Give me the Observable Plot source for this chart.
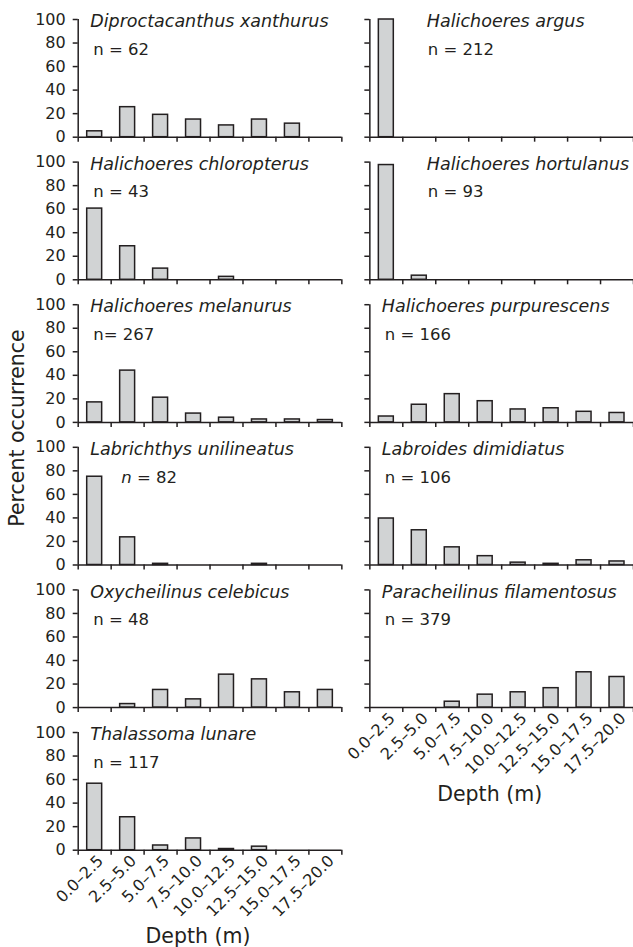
<!DOCTYPE html>
<html>
<head>
<meta charset="utf-8">
<script src="https://cdn.jsdelivr.net/npm/d3@7"></script>
<script src="https://cdn.jsdelivr.net/npm/@observablehq/plot@0.6"></script>
<style>
  html, body { margin: 0; padding: 0; background: #fff; }
  #chart svg { display: block; }
</style>
</head>
<body>
<div id="chart"></div>
<script>
// ---- data ----
const depthLabels = ["0.0–2.5", "2.5–5.0", "5.0–7.5", "7.5–10.0", "10.0–12.5", "12.5–15.0", "15.0–17.5", "17.5–20.0"];
const depthLow  = [0, 2.5, 5, 7.5, 10, 12.5, 15, 17.5];
const depthHigh = [2.5, 5, 7.5, 10, 12.5, 15, 17.5, 20];
const depthBounds = [0, 2.5, 5, 7.5, 10, 12.5, 15, 17.5, 20];
const percentTicks = [0, 20, 40, 60, 80, 100];

const species = [
  "Diproctacanthus xanthurus", "Halichoeres argus",
  "Halichoeres chloropterus", "Halichoeres hortulanus",
  "Halichoeres melanurus", "Halichoeres purpurescens",
  "Labrichthys unilineatus", "Labroides dimidiatus",
  "Oxycheilinus celebicus", "Paracheilinus filamentosus",
  "Thalassoma lunare"
];
const sampleLabels = ["n = 62", "n = 212", "n = 43", "n = 93", "n= 267", "n = 166", "n = 82", "n = 106", "n = 48", "n = 379", "n = 117"];

const diproctacanthusXanthurus = [5, 25.5, 19, 15, 10, 15, 11.5, 0];
const halichoeresArgus         = [100, 0, 0, 0, 0, 0, 0, 0];
const halichoeresChloropterus  = [60.5, 28.5, 9.5, 0, 2.5, 0, 0, 0];
const halichoeresHortulanus    = [97.5, 3.5, 0, 0, 0, 0, 0, 0];
const halichoeresMelanurus     = [17, 44, 21, 7.5, 4, 2.5, 2.5, 2];
const halichoeresPurpurescens  = [5, 15, 24, 18, 11, 12, 9, 8];
const labrichthysUnilineatus   = [75, 23.5, 1, 0, 0, 1, 0, 0];
const labroidesDimidiatus      = [39.5, 29.5, 15, 7.5, 2, 1, 4, 3];
const oxycheilinusCelebicus    = [0, 3, 15, 7, 28, 24, 13, 15];
const paracheilinusFilamentosus= [0, 0, 5, 11, 13, 16.5, 30, 26];
const thalassomaLunare         = [56.5, 28, 4, 10, 1, 3, 0, 0];

const series = [
  diproctacanthusXanthurus, halichoeresArgus, halichoeresChloropterus, halichoeresHortulanus,
  halichoeresMelanurus, halichoeresPurpurescens, labrichthysUnilineatus, labroidesDimidiatus,
  oxycheilinusCelebicus, paracheilinusFilamentosus, thalassomaLunare
];

// ---- tables built from the arrays ----
const panels = species.map((name, i) => ({
  name, n: sampleLabels[i], col: i % 2, row: Math.floor(i / 2), first: series[i][0]
}));
const bars = panels.flatMap((p, i) => series[i].map((v, j) => ({
  col: p.col, row: p.row, lo: depthLow[j], hi: depthHigh[j], value: v
}))).filter(d => d.value > 0);
const depthMid = depthLow.map((lo, i) => (lo + depthHigh[i]) / 2);

const ink = "#231f20";
const lw = 1.5;
const tallFirst = p => p.first > 90;      // label moved right of a full-height first bar
const midFirst = p => p.first > 65 && p.first <= 90;

const chart = Plot.plot({
  width: 633,
  height: 947,
  marginTop: 19,
  marginBottom: 97.3,
  marginLeft: 77.7,
  marginRight: 0,
  style: {fontFamily: "'DejaVu Sans', sans-serif", color: ink, background: "#fff", fontSize: "16px"},
  fx: {axis: null, paddingInner: 0.096, paddingOuter: 0, round: false},
  fy: {axis: null, paddingInner: 0.1747, paddingOuter: 0, round: false},
  x: {domain: [0, 20], axis: null},
  y: {domain: [0, 100], axis: null},
  marks: [
    Plot.rectY(bars, {fx: "col", fy: "row", x1: "lo", x2: "hi", y: "value",
      insetLeft: 9, insetRight: 9, fill: "#d1d3d4", stroke: ink, strokeWidth: lw}),
    Plot.ruleY([0], {stroke: ink, strokeWidth: lw}),
    Plot.ruleX([0], {stroke: ink, strokeWidth: lw}),
    Plot.axisX(depthBounds, {tickSize: 5, fill: "none", label: null, facetAnchor: null, stroke: ink, strokeWidth: lw}),
    Plot.axisY(percentTicks, {tickSize: 5, fill: "none", label: null, facetAnchor: null, stroke: ink, strokeWidth: lw}),
    Plot.axisY(percentTicks, {tickSize: 0, tickPadding: 12.5, label: null, fontSize: 16, fill: ink}),
    Plot.axisX(depthMid, {tickSize: 0, tickRotate: -45, tickPadding: 8, dx: 6,
      tickFormat: d => depthLabels[depthMid.indexOf(d)], label: null, fontSize: 16, fill: ink}),
    Plot.text(["Depth (m)"], {frameAnchor: "bottom", lineAnchor: "bottom", dy: 93, dx: -12,
      fontSize: 20.5, fill: ink, facetAnchor: "bottom-empty"}),
    // species names
    Plot.text(panels.filter(p => !tallFirst(p)), {fx: "col", fy: "row", text: "name", frameAnchor: "top-left",
      textAnchor: "start", lineAnchor: "middle", dx: 12, dy: 2, fontSize: 17.5, fontStyle: "italic", fill: ink}),
    Plot.text(panels.filter(tallFirst), {fx: "col", fy: "row", text: "name", frameAnchor: "top-left",
      textAnchor: "start", lineAnchor: "middle", dx: 57, dy: 2, fontSize: 17.5, fontStyle: "italic", fill: ink}),
    // sample sizes
    Plot.text(panels.filter(p => !tallFirst(p) && !midFirst(p)), {fx: "col", fy: "row", text: "n", frameAnchor: "top-left",
      textAnchor: "start", lineAnchor: "middle", dx: 15, dy: 30, fontSize: 16.5, fill: ink}),
    Plot.text(panels.filter(midFirst), {fx: "col", fy: "row", text: "n", frameAnchor: "top-left",
      textAnchor: "start", lineAnchor: "middle", dx: 43, dy: 30, fontSize: 16.5, fill: ink}),
    Plot.text(panels.filter(tallFirst), {fx: "col", fy: "row", text: "n", frameAnchor: "top-left",
      textAnchor: "start", lineAnchor: "middle", dx: 58, dy: 30, fontSize: 16.5, fill: ink})
  ]
});

document.getElementById("chart").appendChild(chart);

// italic "n" where the source sets it in italics (next to the tall first bar)
const italicN = new Set(panels.filter(midFirst).map(p => p.n));
d3.select(chart).selectAll("text").filter(function () { return italicN.has(this.textContent); })
  .each(function () {
    const t = d3.select(this);
    const rest = this.textContent.slice(1);
    t.text(null);
    t.append("tspan").attr("font-style", "italic").text("n");
    t.append("tspan").text(rest);
  });

// shared y-axis title
d3.select(chart).append("text")
  .attr("transform", "translate(17,428) rotate(-90)")
  .attr("text-anchor", "middle")
  .attr("dominant-baseline", "central")
  .attr("font-size", 20.5)
  .attr("fill", ink)
  .text("Percent occurrence");
</script>
</body>
</html>
